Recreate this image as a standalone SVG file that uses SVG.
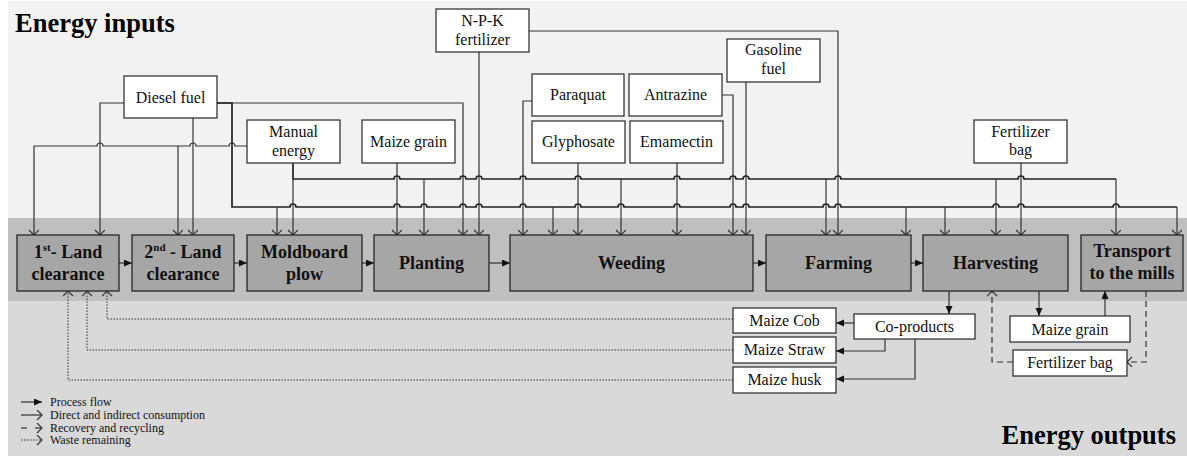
<svg xmlns="http://www.w3.org/2000/svg" width="1187" height="457" viewBox="0 0 1187 457">
<style>
.bg1{fill:#f2f2f2}
.band{fill:#bfbfbf}
.bg3{fill:#d9d9d9}
.proc{fill:#a6a6a6;stroke:#262626;stroke-width:1.3}
.box{fill:#fff;stroke:#262626;stroke-width:1.2}
text{font-family:'Liberation Serif','Times New Roman',Times,'DejaVu Serif',serif}
.pt{font-weight:bold;font-size:18px;text-anchor:middle;fill:#111}
.bt{font-size:16px;text-anchor:middle;fill:#111}
.title{font-weight:bold;font-size:26.5px;fill:#000}
.lg{font-size:12px;fill:#111}
.ln{fill:none;stroke:#333;stroke-width:1.2}
.bus{fill:none;stroke:#222;stroke-width:1.7}
.dash{fill:none;stroke:#333;stroke-width:1.2;stroke-dasharray:6,4}
.dot{fill:none;stroke:#333;stroke-width:1;stroke-dasharray:1.5,1.5}
.mo{fill:none;stroke:#333;stroke-width:1.2;stroke-dasharray:none}
.mf{fill:#111;stroke:none}
</style>
<defs>
<marker id="open" markerUnits="userSpaceOnUse" markerWidth="12" markerHeight="12" refX="6" refY="5" orient="auto">
<path class="mo" d="M1,0 L6,5 L1,10"/>
</marker>
<marker id="fill" markerUnits="userSpaceOnUse" markerWidth="12" markerHeight="10" refX="8" refY="3.5" orient="auto">
<path class="mf" d="M0,0 L8,3.5 L0,7 z"/>
</marker>
</defs>

<g id="background">
<rect class="bg1" x="8" y="1" width="1179" height="217"/>
<rect class="band" x="8" y="218" width="1179" height="83"/>
<rect class="bg3" x="8" y="301" width="1179" height="155"/>
<text class="title" x="15" y="32">Energy inputs</text>
<text class="title" x="1176" y="444" text-anchor="end">Energy outputs</text>
</g>

<g id="connectors">
<path class="ln" d="M124,103 H100 V235" marker-end="url(#open)"/>
<path class="ln" d="M193,118 V235" marker-end="url(#open)"/>
<path class="ln" d="M217,103 H463 V235" marker-end="url(#open)"/>
<path class="ln" d="M247,146 H235 a3,3 0 0 0 -6,0 H196 a3,3 0 0 0 -6,0 H103 a3,3 0 0 0 -6,0 H34 V235" marker-end="url(#open)"/>
<path class="ln" d="M178,146 V235" marker-end="url(#open)"/>
<path class="bus" d="M217,103 H232 V207 H290 a3,3 0 0 1 6,0 H394 a3,3 0 0 1 6,0 H421 a3,3 0 0 1 6,0 H460 a3,3 0 0 1 6,0 H476 a3,3 0 0 1 6,0 H520 a3,3 0 0 1 6,0 H575 a3,3 0 0 1 6,0 H618 a3,3 0 0 1 6,0 H674 a3,3 0 0 1 6,0 H730 a3,3 0 0 1 6,0 H743 a3,3 0 0 1 6,0 H823 a3,3 0 0 1 6,0 H835 a3,3 0 0 1 6,0 H993 a3,3 0 0 1 6,0 H1018 a3,3 0 0 1 6,0 H1113 a3,3 0 0 1 6,0 H1177"/>
<path class="ln" d="M277,207 V235" marker-end="url(#open)"/>
<path class="ln" d="M553,207 V235" marker-end="url(#open)"/>
<path class="ln" d="M906,207 V235" marker-end="url(#open)"/>
<path class="ln" d="M945,207 V235" marker-end="url(#open)"/>
<path class="ln" d="M1177,207 V235" marker-end="url(#open)"/>
<path class="bus" d="M293,163 V179 H394 a3,3 0 0 1 6,0 H460 a3,3 0 0 1 6,0 H476 a3,3 0 0 1 6,0 H520 a3,3 0 0 1 6,0 H575 a3,3 0 0 1 6,0 H674 a3,3 0 0 1 6,0 H730 a3,3 0 0 1 6,0 H743 a3,3 0 0 1 6,0 H835 a3,3 0 0 1 6,0 H1018 a3,3 0 0 1 6,0 H1116"/>
<path class="ln" d="M293,179 V235" marker-end="url(#open)"/>
<path class="ln" d="M424,179 V235" marker-end="url(#open)"/>
<path class="ln" d="M621,179 V235" marker-end="url(#open)"/>
<path class="ln" d="M826,179 V235" marker-end="url(#open)"/>
<path class="ln" d="M996,179 V235" marker-end="url(#open)"/>
<path class="ln" d="M1116,179 V235" marker-end="url(#open)"/>
<path class="ln" d="M397,163 V235" marker-end="url(#open)"/>
<path class="ln" d="M479,52 V235" marker-end="url(#open)"/>
<path class="ln" d="M529,31 H838 V235" marker-end="url(#open)"/>
<path class="ln" d="M532,101 H523 V235" marker-end="url(#open)"/>
<path class="ln" d="M578,163 V235" marker-end="url(#open)"/>
<path class="ln" d="M677,163 V235" marker-end="url(#open)"/>
<path class="ln" d="M722,95 H733 V235" marker-end="url(#open)"/>
<path class="ln" d="M746,82 V235" marker-end="url(#open)"/>
<path class="ln" d="M1021,163 V235" marker-end="url(#open)"/>
<path class="ln" d="M119,263 H132" marker-end="url(#fill)"/>
<path class="ln" d="M234,263 H247" marker-end="url(#fill)"/>
<path class="ln" d="M362,263 H374" marker-end="url(#fill)"/>
<path class="ln" d="M489,263 H510" marker-end="url(#fill)"/>
<path class="ln" d="M753,263 H766" marker-end="url(#fill)"/>
<path class="ln" d="M911,263 H923" marker-end="url(#fill)"/>
<path class="ln" d="M949,291 V314" marker-end="url(#fill)"/>
<path class="ln" d="M1039,291 V316" marker-end="url(#fill)"/>
<path class="ln" d="M1105,316 V291" marker-end="url(#fill)"/>
<path class="ln" d="M854,323 H836" marker-end="url(#fill)"/>
<path class="ln" d="M885,339 V351 H836" marker-end="url(#fill)"/>
<path class="ln" d="M915,339 V379 H836" marker-end="url(#fill)"/>
<path class="dash" d="M1146,291 V362 H1127" marker-end="url(#open)"/>
<path class="dash" d="M1013,362 H992 V291" marker-end="url(#open)"/>
<path class="dot" d="M733,319 H107 V291" marker-end="url(#open)"/>
<path class="dot" d="M733,350 H87 V291" marker-end="url(#open)"/>
<path class="dot" d="M733,380 H68 V291" marker-end="url(#open)"/>
</g>

<g id="process-nodes">
<g id="land1"><rect class="proc" x="17" y="235" width="102" height="56"/><text class="pt" x="68" y="258">1<tspan font-size="11" dy="-7">st</tspan><tspan dy="7">- Land</tspan></text><text class="pt" x="68" y="280">clearance</text></g>
<g id="land2"><rect class="proc" x="132" y="235" width="102" height="56"/><text class="pt" x="183" y="258">2<tspan font-size="11" dy="-7">nd</tspan><tspan dy="7"> - Land</tspan></text><text class="pt" x="183" y="280">clearance</text></g>
<g id="moldboard"><rect class="proc" x="247" y="235" width="115" height="56"/><text class="pt" x="304.5" y="258">Moldboard</text><text class="pt" x="304.5" y="280">plow</text></g>
<g id="planting"><rect class="proc" x="374" y="235" width="115" height="56"/><text class="pt" x="431.5" y="269">Planting</text></g>
<g id="weeding"><rect class="proc" x="510" y="235" width="243" height="56"/><text class="pt" x="631.5" y="269">Weeding</text></g>
<g id="farming"><rect class="proc" x="766" y="235" width="145" height="56"/><text class="pt" x="838.5" y="269">Farming</text></g>
<g id="harvesting"><rect class="proc" x="923" y="235" width="145" height="56"/><text class="pt" x="995.5" y="269">Harvesting</text></g>
<g id="transport"><rect class="proc" x="1081" y="235" width="102" height="56"/><text class="pt" x="1132" y="257">Transport</text><text class="pt" x="1132" y="279">to the mills</text></g>
</g>

<g id="input-nodes">
<g id="diesel"><rect class="box" x="124" y="76" width="93" height="42"/><text class="bt" x="170.5" y="102.5">Diesel fuel</text></g>
<g id="manual"><rect class="box" x="247" y="120" width="93" height="43"/><text class="bt" x="293.5" y="137">Manual</text><text class="bt" x="293.5" y="156">energy</text></g>
<g id="maizegrain-in"><rect class="box" x="362" y="120" width="93" height="43"/><text class="bt" x="408.5" y="146.5">Maize grain</text></g>
<g id="npk"><rect class="box" x="436" y="9" width="93" height="43"/><text class="bt" x="482.5" y="26">N-P-K</text><text class="bt" x="482.5" y="45">fertilizer</text></g>
<g id="paraquat"><rect class="box" x="532" y="74" width="92" height="42"/><text class="bt" x="578" y="100">Paraquat</text></g>
<g id="glyphosate"><rect class="box" x="532" y="121" width="93" height="42"/><text class="bt" x="578.5" y="146.5">Glyphosate</text></g>
<g id="antrazine"><rect class="box" x="629" y="74" width="93" height="42"/><text class="bt" x="675.5" y="100">Antrazine</text></g>
<g id="emamectin"><rect class="box" x="630" y="121" width="93" height="42"/><text class="bt" x="676.5" y="146.5">Emamectin</text></g>
<g id="gasoline"><rect class="box" x="727" y="39" width="93" height="43"/><text class="bt" x="773.5" y="55">Gasoline</text><text class="bt" x="773.5" y="74">fuel</text></g>
<g id="fertbag-in"><rect class="box" x="974" y="120" width="93" height="43"/><text class="bt" x="1020.5" y="137">Fertilizer</text><text class="bt" x="1020.5" y="155">bag</text></g>
</g>

<g id="output-nodes">
<g id="cob"><rect class="box" x="733" y="308" width="103" height="25"/><text class="bt" x="784.5" y="325.5">Maize Cob</text></g>
<g id="straw"><rect class="box" x="733" y="337" width="103" height="26"/><text class="bt" x="784.5" y="355">Maize Straw</text></g>
<g id="husk"><rect class="box" x="733" y="367" width="103" height="26"/><text class="bt" x="784.5" y="385">Maize husk</text></g>
<g id="coproducts"><rect class="box" x="854" y="314" width="121" height="25"/><text class="bt" x="914.5" y="332">Co-products</text></g>
<g id="maizegrain-out"><rect class="box" x="1010" y="316" width="120" height="26"/><text class="bt" x="1070" y="334.5">Maize grain</text></g>
<g id="fertbag-out"><rect class="box" x="1013" y="350" width="114" height="26"/><text class="bt" x="1070" y="368">Fertilizer bag</text></g>
</g>

<g id="legend">
<path class="ln" d="M21,402 H42" marker-end="url(#fill)"/>
<path class="ln" d="M21,415 H42" marker-end="url(#open)"/>
<path class="ln" d="M21,428 H27"/>
<path class="ln" d="M35,428 H42" marker-end="url(#open)"/>
<path class="dot" d="M21,440 H42" marker-end="url(#open)"/>
<text class="lg" x="50" y="406">Process flow</text>
<text class="lg" x="50" y="419">Direct and indirect consumption</text>
<text class="lg" x="50" y="432">Recovery and recycling</text>
<text class="lg" x="50" y="444">Waste remaining</text>
</g>
</svg>
